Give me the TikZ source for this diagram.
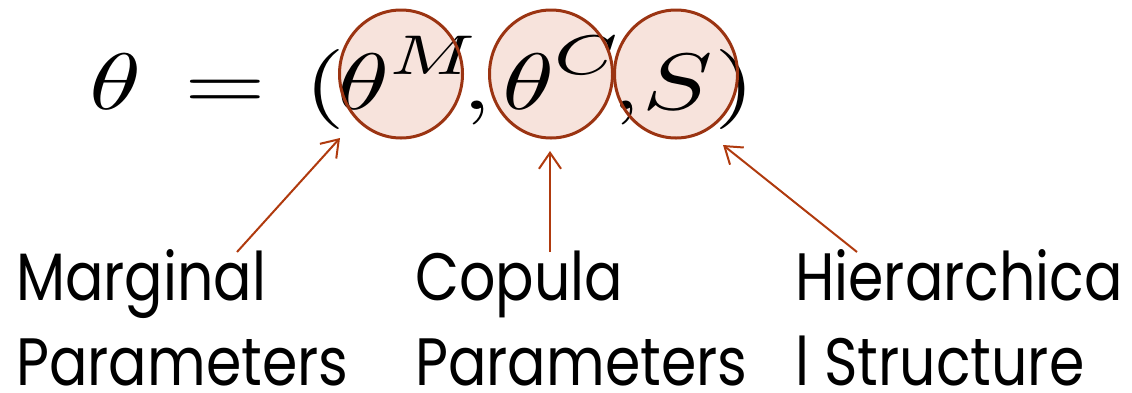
\documentclass[tikz,border=0pt]{standalone}
\usepackage{fontspec}
\usepackage{graphicx}
\newfontfamily\labelfont[FakeStretch=0.85]{Poppins}
\usetikzlibrary{arrows.meta,shapes.geometric}
\definecolor{pinkfill}{RGB}{247,227,220}
\definecolor{rust}{RGB}{155,52,18}
\definecolor{arrowc}{RGB}{176,58,14}
\newcommand{\eqglyph}[1]{\scalebox{10.5}[8]{$#1$}}
\newcommand{\eqsup}[1]{\scalebox{10.5}[8]{$\scriptstyle #1$}}
\tikzset{
  blobfill/.style={ellipse, minimum width=123pt, minimum height=128pt, inner sep=0pt, fill=pinkfill},
  blobline/.style={ellipse, minimum width=123pt, minimum height=128pt, inner sep=0pt, draw=rust, line width=3pt},
  pointer/.style={draw=arrowc, line width=2pt, -{Straight Barb[length=16pt,width=22pt]}},
  glyph/.style={anchor=base, inner sep=0pt},
  lbl/.style={anchor=base west, align=left, inner sep=0pt, text depth=0pt, font=\labelfont\fontsize{67}{85}\selectfont}
}
\begin{document}
\begin{tikzpicture}[x=1pt,y=-1pt]
\useasboundingbox (0,0) rectangle (1132,392);
% circle fills
\node[blobfill] (f1) at (401,74) {};
\node[blobfill] (f2) at (551,74) {};
\node[blobfill] (f3) at (676,74) {};
% formula, glyph by glyph
\node[glyph] (th1) at (116,109) {\eqglyph{\theta}};
\node[glyph] (eq)  at (225,109) {\eqglyph{=}};
\node[glyph] (lp)  at (325,109) {\eqglyph{(}};
\node[glyph] (th2) at (364,109) {\eqglyph{\theta}};
\node[glyph] (supM) at (432,74) {\eqsup{M}};
\node[glyph] (cm1) at (477,109) {\eqglyph{,}};
\node[glyph] (th3) at (529,109) {\eqglyph{\theta}};
\node[glyph] (supC) at (586,74) {\eqsup{C}};
\node[glyph] (cm2) at (626,109) {\eqglyph{,}};
\node[glyph] (S)   at (678,109) {\eqglyph{S}};
\node[glyph] (rp)  at (735,109) {\eqglyph{)}};
% circle outlines
\node[blobline] (c1) at (f1.center) {};
\node[blobline] (c2) at (f2.center) {};
\node[blobline] (c3) at (f3.center) {};
% labels (anchor is the baseline of the last line)
\node[lbl] (marg) at (16,385) {Marginal\\Parameters};
\node[lbl] (cop) at (415,385) {Copula\\Parameters};
\node[lbl] (hier) at (795,385) {Hierarchica\\l Structure};
% arrow ends
\coordinate (s1) at (237,252);
\coordinate (e1) at (340,138);
\coordinate (s2) at (550,252);
\coordinate (e2) at (550,151);
\coordinate (s3) at (857,252);
\coordinate (e3) at (723,145);
\draw[pointer] (s1) -- (e1);
\draw[pointer] (s2) -- (e2);
\draw[pointer] (s3) -- (e3);
\end{tikzpicture}
\end{document}
